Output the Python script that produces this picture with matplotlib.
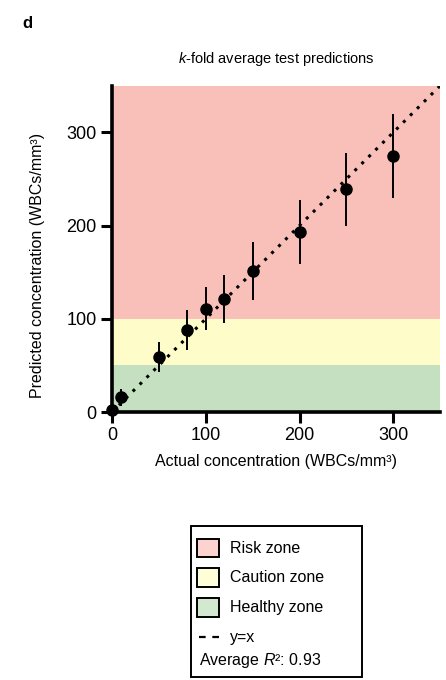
import matplotlib.pyplot as plt
from matplotlib.patches import Rectangle
from matplotlib.lines import Line2D

plt.rcParams['font.family'] = ['Liberation Sans', 'DejaVu Sans']
plt.rcParams['mathtext.fontset'] = 'custom'
plt.rcParams['mathtext.rm'] = 'Liberation Sans'
plt.rcParams['mathtext.it'] = 'Liberation Sans:italic'

# data
actual = [0, 10, 50, 80, 100, 120, 150, 200, 250, 300]
predicted = [2, 16, 59, 88, 111, 121, 151, 193, 239, 275]
err = [3, 9, 16, 21, 23, 26, 31, 34, 39, 45]

zone_edges = [0, 50, 100, 350]
zone_names = ['Healthy zone', 'Caution zone', 'Risk zone']
zone_colors = ['#c4e0c0', '#fefcc9', '#f9c0b9']
legend_colors = ['#d2e8d0', '#fefed8', '#fcd3cf']
ticks = [0, 100, 200, 300]
r2 = 0.93

fig = plt.figure(figsize=(4.46, 6.8), dpi=100)
ax = fig.add_axes([0.251, 0.394, 0.736, 0.480])

for i in range(3):
    ax.axhspan(zone_edges[i], zone_edges[i + 1], color=zone_colors[i], lw=0, zorder=0)

ax.plot([0, 350], [0, 350], ls=(0, (1, 2.2)), color='black', lw=2.2, zorder=2)
ax.errorbar(actual, predicted, yerr=err, fmt='o', color='black', ms=8,
            elinewidth=1.4, capsize=0, zorder=3, clip_on=False)

ax.set_xlim(0, 350)
ax.set_ylim(0, 350)
ax.set_xticks(ticks)
ax.set_yticks(ticks)
ax.tick_params(labelsize=13, length=8, width=2.2, pad=3)
for s in ['top', 'right']:
    ax.spines[s].set_visible(False)
for s in ['left', 'bottom']:
    ax.spines[s].set_linewidth(2.6)
ax.set_xlabel('Actual concentration (WBCs/mm³)', fontsize=11.5, labelpad=7)
ax.set_ylabel('Predicted concentration (WBCs/mm³)', fontsize=11.5)
ax.yaxis.set_label_coords(-0.205, 0.45)
ax.set_title('$k$-fold average test predictions', fontsize=10.5, pad=16)

fig.text(0.05, 0.965, 'd', fontsize=12, fontweight='bold', va='center')

# legend box
fig.patches.append(Rectangle((0.428, 0.005), 0.384, 0.222, transform=fig.transFigure,
                             fill=False, ec='black', lw=1.4))
rows = [0.194, 0.150, 0.106]
for y, name, c in zip(rows, zone_names[::-1], legend_colors[::-1]):
    fig.patches.append(Rectangle((0.442, y - 0.013), 0.05, 0.027, transform=fig.transFigure,
                                 fc=c, ec='black', lw=1.4))
    fig.text(0.516, y, name, fontsize=11.5, va='center')
fig.lines.append(Line2D([0.447, 0.49], [0.063, 0.063], transform=fig.transFigure,
                        color='black', ls=(0, (3, 3)), lw=1.6))
fig.text(0.516, 0.063, 'y=x', fontsize=11.5, va='center')
fig.text(0.446, 0.028, 'Average $R$²: %.2f' % r2, fontsize=11.5, va='center')

fig.savefig('out.png', dpi=100)
